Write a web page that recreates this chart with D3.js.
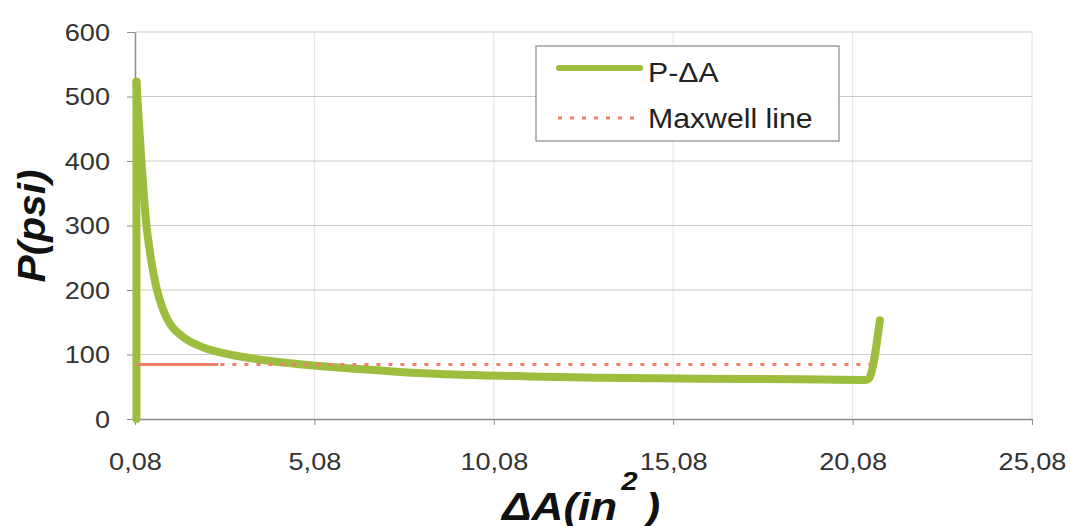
<html>
<head>
<script src="https://cdn.jsdelivr.net/npm/d3@7"></script>
<style>
body { margin: 0; background: #fff; }
text { font-family: "Liberation Sans", Arial, sans-serif; }
</style>
</head>
<body>
<svg id="chart" width="1071" height="526"></svg>
<script>
// P-dA curve
var dA = [0.12, 0.12, 0.40, 0.52, 0.68, 0.86, 1.06, 1.25, 1.50, 1.98, 2.90, 3.84, 5.04, 6.20, 7.47, 9.00, 11.09, 13.00, 15.80, 18.60, 20.46, 20.54, 20.84];
var P  = [0, 523, 300, 250, 203, 170, 147, 135, 124, 111, 98, 90, 83, 78, 73, 69, 66, 64, 62.5, 61.5, 60.5, 63, 153];

// Maxwell line (solid start + dotted run)
var maxSolidDA = [0.12, 2.4];
var maxDotDA = [0.12, 20.57];
var maxP = [84.5, 84.5];

var xTicks = [0.08, 5.08, 10.08, 15.08, 20.08, 25.08];
var yTicks = [0, 100, 200, 300, 400, 500, 600];
var seriesNames = ["P-\u0394A", "Maxwell line"];

var plotL = 135, plotR = 1032, plotT = 32, plotB = 419;
var stretch = 1.13;
var green = "#9dbd3f", red = "#f0806a";

var svg = d3.select("#chart");
var x = d3.scaleLinear().domain([0.08, 25.08]).range([plotL, plotR]);
var y = d3.scaleLinear().domain([0, 600]).range([plotB, plotT]);

// grid
svg.append("g").selectAll("line").data(xTicks.slice(1)).enter().append("line")
  .attr("x1", d => x(d)).attr("x2", d => x(d))
  .attr("y1", plotT).attr("y2", plotB)
  .attr("stroke", "#e4e4e4").attr("stroke-width", 1);
svg.append("g").selectAll("line").data(yTicks.slice(1)).enter().append("line")
  .attr("x1", plotL).attr("x2", plotR)
  .attr("y1", d => y(d)).attr("y2", d => y(d))
  .attr("stroke", "#cbcbcb").attr("stroke-width", 1);

// axes
var yAxis = svg.append("g").attr("transform", "translate(" + plotL + ",0)")
  .call(d3.axisLeft(y).tickValues(yTicks).tickSize(8).tickSizeOuter(0));
yAxis.selectAll("text")
  .attr("x", -25 / stretch).attr("dy", "0.35em")
  .attr("transform", "scale(" + stretch + ",1)")
  .attr("font-size", 24).attr("fill", "#333");

var xAxis = svg.append("g").attr("transform", "translate(0," + plotB + ")")
  .call(d3.axisBottom(x).tickValues(xTicks).tickSize(6).tickSizeOuter(0)
    .tickFormat(d => d.toFixed(2).replace(".", ",")));
xAxis.selectAll("text")
  .attr("y", 51).attr("dy", 0)
  .attr("transform", "scale(" + stretch + ",1)")
  .attr("font-size", 24).attr("fill", "#333");

svg.selectAll(".domain").attr("stroke", "#8c8c8c").attr("stroke-width", 1.5);
svg.selectAll(".tick line").attr("stroke", "#8c8c8c");
svg.selectAll(".tick text").attr("font-family", "Liberation Sans, Arial, sans-serif");

// lines
var line = d3.line().x(d => x(d[0])).y(d => y(d[1]));
var smooth = d3.line().x(d => x(d[0])).y(d => y(d[1])).curve(d3.curveMonotoneX);
var pts = d3.zip(dA, P);

svg.append("path")
  .datum(d3.zip(maxSolidDA, maxP))
  .attr("d", line).attr("fill", "none")
  .attr("stroke", red).attr("stroke-width", 3);

// vertical rise at the start, then the smooth decay
svg.append("path")
  .datum(pts.slice(0, 2))
  .attr("d", line).attr("fill", "none")
  .attr("stroke", green).attr("stroke-width", 8).attr("stroke-linecap", "round");
svg.append("path")
  .datum(pts.slice(1))
  .attr("d", smooth).attr("fill", "none")
  .attr("stroke", green).attr("stroke-width", 8)
  .attr("stroke-linejoin", "round").attr("stroke-linecap", "round");

svg.append("path")
  .datum(d3.zip(maxDotDA, maxP))
  .attr("d", line).attr("fill", "none")
  .attr("stroke", red).attr("stroke-width", 3)
  .attr("stroke-dasharray", "4,8");

// legend
var lg = svg.append("g");
lg.append("rect").attr("x", 536).attr("y", 46).attr("width", 303).attr("height", 95)
  .attr("fill", "#fff").attr("stroke", "#8a8a8a").attr("stroke-width", 1.2);
lg.append("line").attr("x1", 559).attr("x2", 640).attr("y1", 68).attr("y2", 68)
  .attr("stroke", green).attr("stroke-width", 6).attr("stroke-linecap", "round");
lg.append("line").attr("x1", 558).attr("x2", 642).attr("y1", 118).attr("y2", 118)
  .attr("stroke", red).attr("stroke-width", 3).attr("stroke-dasharray", "4,8");
lg.selectAll("g.item").data(seriesNames).enter().append("g")
  .attr("transform", (d, i) => "translate(648," + (82 + i * 46) + ") scale(1.12,1)")
  .append("text").text(d => d)
  .attr("font-size", 27).attr("fill", "#222");

// axis titles
svg.append("g").attr("transform", "translate(45,226) rotate(-90)")
  .append("text").text("P(psi)")
  .attr("text-anchor", "middle")
  .attr("font-size", 38).attr("font-weight", "bold").attr("font-style", "italic")
  .attr("textLength", 113).attr("lengthAdjust", "spacingAndGlyphs")
  .attr("fill", "#111");

var xt = svg.append("g").attr("transform", "translate(502,520) scale(" + stretch + ",1)")
  .append("text")
  .attr("font-weight", "bold").attr("font-style", "italic").attr("fill", "#111");
xt.append("tspan").text("\u0394A(in").attr("font-size", 39);
xt.append("tspan").text("2").attr("font-size", 26).attr("dx", 4 / stretch).attr("dy", -30);
xt.append("tspan").text(")").attr("font-size", 39).attr("dx", 8 / stretch).attr("dy", 30);
</script>
</body>
</html>
